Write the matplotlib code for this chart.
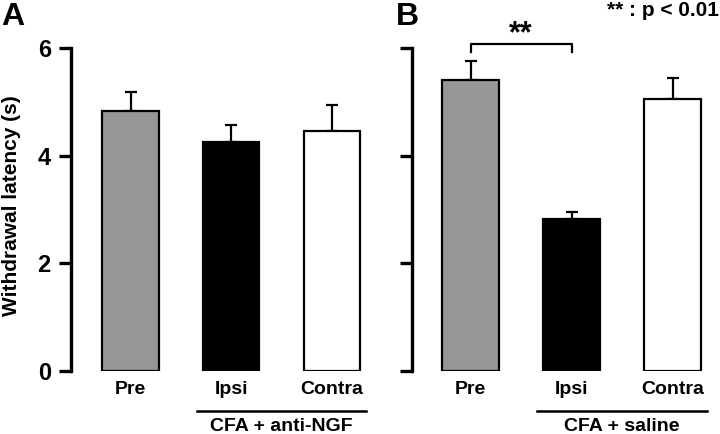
import matplotlib
matplotlib.use("Agg")
import matplotlib.pyplot as plt
import matplotlib.transforms as mtransforms

plt.rcParams['font.family'] = ['Liberation Sans', 'DejaVu Sans']
plt.rcParams['font.weight'] = 'bold'

categories = ["Pre", "Ipsi", "Contra"]
means_a = [4.83, 4.26, 4.46]
errs_a = [0.36, 0.31, 0.48]
means_b = [5.41, 2.83, 5.05]
errs_b = [0.35, 0.12, 0.39]
colors = ["#969696", "#000000", "#ffffff"]
group_a = "CFA + anti-NGF"
group_b = "CFA + saline"
yticks = [0, 2, 4, 6]

W, H = 720, 434
fig = plt.figure(figsize=(W / 100, H / 100), dpi=100)

def px_axes(l, r, b, t):
    return fig.add_axes([l / W, (H - b) / H, (r - l) / W, (b - t) / H])

axA = px_axes(71, 372, 371, 48)
axB = px_axes(412, 713, 371, 48)

def draw(ax, means, errs, xmin, group, labels_on):
    x = list(range(len(categories)))
    ax.bar(x, means, width=0.56, color=colors, edgecolor='black', linewidth=1.6, zorder=2)
    ax.errorbar(x, means, yerr=[[0] * len(errs), errs], fmt='none', ecolor='black',
                elinewidth=1.6, capsize=4.5, capthick=1.6, zorder=1)
    ax.set_xlim(xmin, 2.4)
    ax.set_ylim(0, 6)
    ax.set_yticks(yticks)
    for s in ['top', 'right', 'bottom']:
        ax.spines[s].set_visible(False)
    ax.spines['left'].set_linewidth(2.4)
    ax.tick_params(axis='y', direction='out', length=8.5, width=2.4, pad=6, labelsize=17)
    if not labels_on:
        ax.tick_params(axis='y', labelleft=False)
    ax.set_xticks(x)
    ax.set_xticklabels(categories, fontsize=14, fontweight='bold')
    ax.tick_params(axis='x', length=0, pad=7)
    trans = mtransforms.blended_transform_factory(ax.transData, ax.transAxes)
    ax.plot([0.66, 2.34], [-0.123, -0.123], color='black', lw=1.8, transform=trans, clip_on=False)
    ax.text(1.5, -0.172, group, transform=trans, ha='center', va='center',
            fontsize=14, fontweight='bold')
    for lab in ax.get_yticklabels():
        lab.set_fontweight('bold')

draw(axA, means_a, errs_a, -0.592, group_a, True)
draw(axB, means_b, errs_b, -0.58, group_b, False)

axA.set_ylabel("Withdrawal latency (s)", fontsize=15, fontweight='bold')
axA.yaxis.set_label_coords(-50 / 301, (371 - 206) / 323)

# significance bracket
axB.plot([0, 0, 1, 1], [5.93, 6.08, 6.08, 5.93], color='black', lw=1.6, clip_on=False)
axB.text(0.5, 6.26, "**", ha='center', va='center', fontsize=22, fontweight='bold')

fig.text(1 / W, 1 - 17 / H, "A", fontsize=23, fontweight='bold', va='center', ha='left')
fig.text(396 / W, 1 - 17 / H, "B", fontsize=23, fontweight='bold', va='center', ha='left')
fig.text(607 / W, 1 - 10 / H, "** : p < 0.01", fontsize=15, fontweight='bold', va='center', ha='left')

fig.savefig("out.png", dpi=100)
